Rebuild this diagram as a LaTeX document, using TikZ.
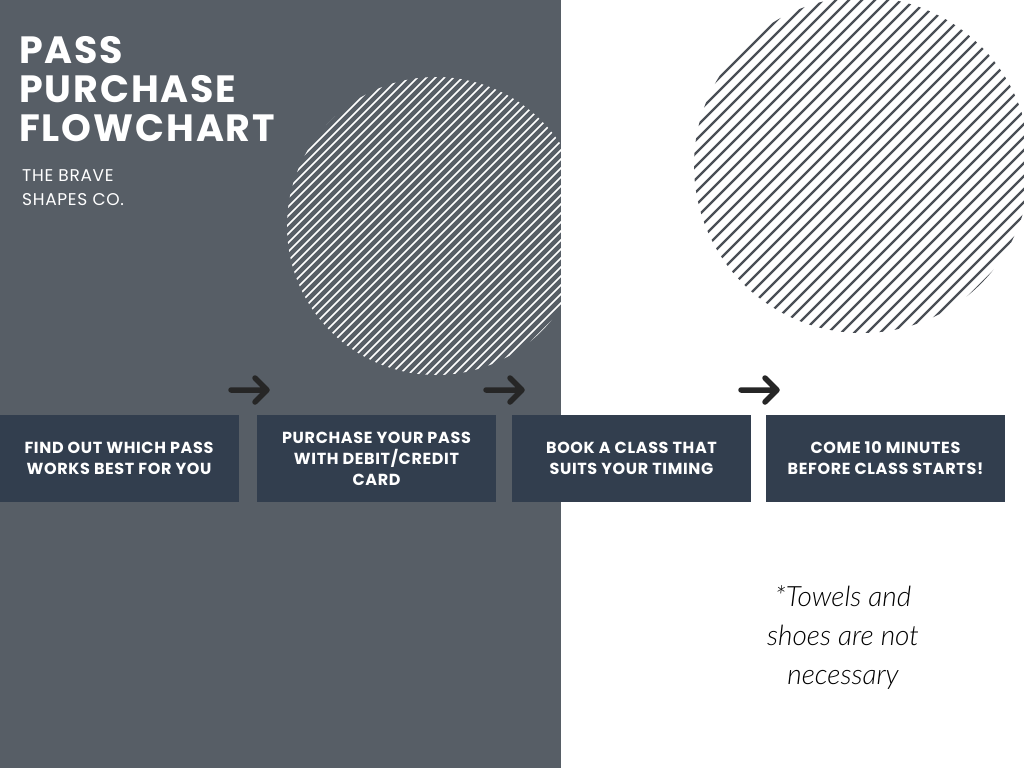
\documentclass[tikz,border=0pt]{standalone}
\usepackage{fontspec}
\newfontfamily\pop{Poppins}
\newfontfamily\lat{Lato Light}
\definecolor{panel}{HTML}{575E66}
\definecolor{boxc}{HTML}{323E4E}
\definecolor{hatch}{HTML}{4A4F56}
\begin{document}
\begin{tikzpicture}[x=1pt,y=-1pt,
  stepbox/.style={fill=boxc,text=white,minimum width=239pt,minimum height=87pt,inner sep=0pt,align=center,font=\pop\bfseries\addfontfeature{LetterSpace=4}\fontsize{16}{21}\selectfont},
  arr/.style={line width=5.5pt,color=black!85,line cap=round,line join=round}]
\useasboundingbox (0,0) rectangle (1024,768);
\fill[white] (0,0) rectangle (1024,768);
\fill[panel] (0,0) rectangle (561,768);
% left hatched circle
\begin{scope}
\clip (0,0) rectangle (561,768);
\clip (436,226) circle (149);
\foreach \k in {-320,-311,...,320}
  \draw[white,line width=1.5pt] (436+\k-200,226+200) -- (436+\k+200,226-200);
\end{scope}
% right hatched circle
\begin{scope}
\clip (561,0) rectangle (1024,768);
\clip (862,165) circle (168);
\foreach \k in {-360,-347,...,360}
  \draw[hatch,line width=2.2pt] (862+\k-220,165+220) -- (862+\k+220,165-220);
\end{scope}
\node[anchor=north west,text=white,align=left,inner sep=0pt,font=\pop\bfseries\addfontfeature{LetterSpace=5}\fontsize{38}{39}\selectfont] (title) at (19,36) {PASS\\PURCHASE\\FLOWCHART};
\node[anchor=north west,text=white,align=left,inner sep=0pt,font=\pop\addfontfeature{LetterSpace=4}\fontsize{17}{24}\selectfont] (sub) at (22,169) {THE BRAVE\\SHAPES CO.};
\node[stepbox] (b1) at (119,458.5) {FIND OUT WHICH PASS\\WORKS BEST FOR YOU};
\node[stepbox] (b2) at (376.5,458.5) {PURCHASE YOUR PASS\\WITH DEBIT/CREDIT\\CARD};
\node[stepbox] (b3) at (631.5,458.5) {BOOK A CLASS THAT\\SUITS YOUR TIMING};
\node[stepbox] (b4) at (885.5,458.5) {COME 10 MINUTES\\BEFORE CLASS STARTS!};
\foreach \n/\x in {1/231,2/486,3/741}{
  \coordinate (a\n s) at (\x,390); \coordinate (a\n e) at (\x+36,390);
  \draw[arr] (a\n s) -- (a\n e) ++(-12,-12) -- (a\n e) -- ++(-12,12);
}
\node[align=center,inner sep=0pt,font=\lat\itshape\fontsize{28}{39}\selectfont] (note) at (843,638) {*Towels and\\shoes are not\\necessary};
\end{tikzpicture}
\end{document}
